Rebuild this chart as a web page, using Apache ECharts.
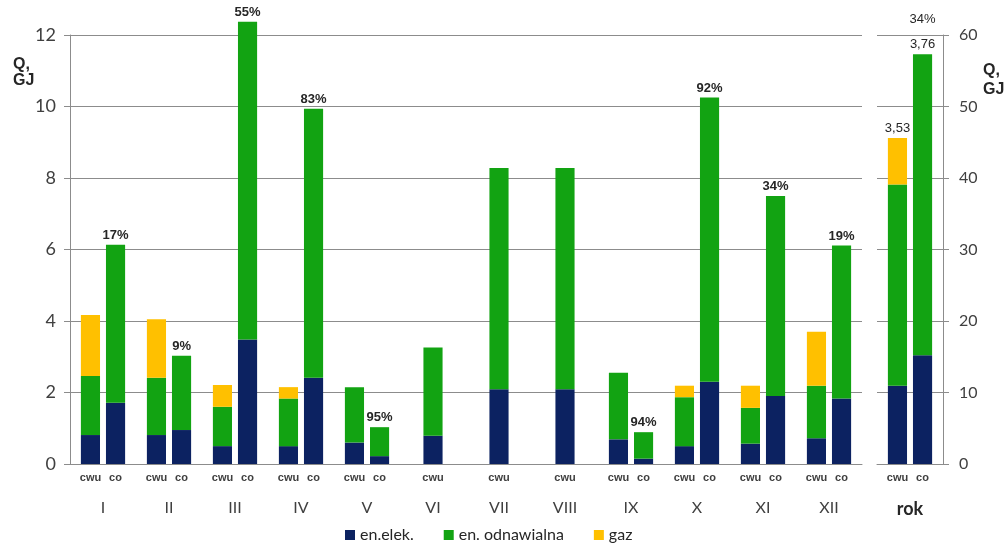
<!DOCTYPE html>
<html>
<head>
<meta charset="utf-8"/>
<title>Q, GJ</title>
<style>
    html, body { margin: 0; padding: 0; background: #fff; }
    #main { width: 1008px; height: 553px; }
</style>
</head>
<body>
<div id="main"></div>
<script src="https://cdn.jsdelivr.net/npm/echarts@6/dist/echarts.min.js"></script>
<script>
// miesiace
var months = ['I', 'II', 'III', 'IV', 'V', 'VI', 'VII', 'VIII', 'IX', 'X', 'XI', 'XII'];

// cwu: en.elek. / en. odnawialna / gaz  (GJ, kolejne segmenty slupka)
var cwuElek = [0.81, 0.81, 0.50, 0.50, 0.60, 0.79, 2.09, 2.09, 0.69, 0.50, 0.57, 0.72];
var cwuOdn  = [1.65, 1.60, 1.10, 1.33, 1.55, 2.47, 6.19, 6.19, 1.86, 1.37, 1.00, 1.47];
var cwuGaz  = [1.71, 1.64, 0.61, 0.32, 0, 0, 0, 0, 0, 0.32, 0.62, 1.51];

// co (brak w VI-VIII)
var coElek = [1.71, 0.95, 3.48, 2.41, 0.22, null, null, null, 0.15, 2.30, 1.90, 1.83];
var coOdn  = [4.42, 2.08, 8.89, 7.53, 0.81, null, null, null, 0.74, 7.95, 5.60, 4.28];
var coGaz  = [0, 0, 0, 0, 0, null, null, null, 0, 0, 0, 0];
var coPct  = ['17%', '9%', '55%', '83%', '95%', '', '', '', '94%', '92%', '34%', '19%'];

// rok (prawa os)
var rokCat  = ['rok'];
var rokCwu  = [10.95, 28.15, 6.5];   // elek, odn, gaz
var rokCo   = [15.2, 42.1, 0];
var rokCwuTxt = ['3,53'];
var rokCoTxt  = ['3,76', '34%'];

var segNames  = ['en.elek.', 'en. odnawialna', 'gaz'];
var segColors = ['#0c2261', '#12a312', '#ffc000'];

// buduje segmenty slupkow: [kategoria, slot(-1 cwu, 1 co, 0 sam), od, do]
function buildStacks(n, cwuSets, coSets, coTexts, cwuTexts) {
    var bars = [[], [], []];
    var labels = [];
    for (var i = 0; i < n; i++) {
        var hasCo = coSets[0][i] != null;
        var slots = hasCo
            ? [{sets: cwuSets, slot: -1, sub: 'cwu', txt: cwuTexts ? cwuTexts(i) : []},
               {sets: coSets, slot: 1, sub: 'co', txt: coTexts(i)}]
            : [{sets: cwuSets, slot: 0, sub: 'cwu', txt: cwuTexts ? cwuTexts(i) : []}];
        slots.forEach(function (s) {
            var base = 0;
            for (var k = 0; k < 3; k++) {
                var v = s.sets[k][i] || 0;
                if (v > 0) bars[k].push([i, s.slot, base, base + v]);
                base += v;
            }
            labels.push({c: i, slot: s.slot, top: base, sub: s.sub, txt: s.txt});
        });
    }
    return {bars: bars, labels: labels};
}

var monthStacks = buildStacks(months.length,
    [cwuElek, cwuOdn, cwuGaz], [coElek, coOdn, coGaz],
    function (i) { return coPct[i] ? [coPct[i]] : []; });

var rokStacks = buildStacks(1,
    [[rokCwu[0]], [rokCwu[1]], [rokCwu[2]]], [[rokCo[0]], [rokCo[1]], [rokCo[2]]],
    function () { return rokCoTxt; },
    function () { return rokCwuTxt; });

function renderSeg(params, api) {
    var c = api.value(0), slot = api.value(1);
    var band = api.size([1, 0])[0];
    var w = band * 0.29;
    var p0 = api.coord([c, api.value(2)]);
    var p1 = api.coord([c, api.value(3)]);
    var cx = p0[0] + slot * band * 0.19;
    return {
        type: 'rect',
        shape: {x: cx - w / 2, y: p1[1], width: w, height: p0[1] - p1[1]},
        style: {fill: api.visual('color')}
    };
}

function labelRenderer(list, bold) {
    return function (params, api) {
        var r = list[params.dataIndex];
        var band = api.size([1, 0])[0];
        var base = api.coord([r.c, 0]);
        var top = api.coord([r.c, r.top]);
        var cx = base[0] + r.slot * band * 0.19;
        var children = [{
            type: 'text', x: cx, y: base[1] + 14,
            style: {text: r.sub, align: 'center', verticalAlign: 'middle',
                font: 'bold 11px "Liberation Sans", Arial, sans-serif', fill: '#404040'}
        }];
        r.txt.forEach(function (t, j) {
            children.push({
                type: 'text', x: cx, y: top[1] - 3 - j * 25,
                style: {text: t, align: 'center', verticalAlign: 'bottom',
                    font: (bold ? 'bold ' : '') + '13px "Liberation Sans", Arial, sans-serif', fill: '#262626'}
            });
        });
        return {type: 'group', children: children};
    };
}

var series = [];
segNames.forEach(function (name, k) {
    series.push({
        name: name, type: 'custom', xAxisIndex: 0, yAxisIndex: 0,
        itemStyle: {color: segColors[k]}, renderItem: renderSeg,
        encode: {x: 0, y: 3}, data: monthStacks.bars[k]
    });
    series.push({
        name: name, type: 'custom', xAxisIndex: 1, yAxisIndex: 1,
        itemStyle: {color: segColors[k]}, renderItem: renderSeg,
        encode: {x: 0, y: 3}, data: rokStacks.bars[k]
    });
});
series.push({
    name: 'lbl1', type: 'custom', xAxisIndex: 0, yAxisIndex: 0, z: 5, silent: true,
    renderItem: labelRenderer(monthStacks.labels, true), encode: {x: 0, y: 2},
    data: monthStacks.labels.map(function (r) { return [r.c, r.slot, r.top]; })
});
series.push({
    name: 'lbl2', type: 'custom', xAxisIndex: 1, yAxisIndex: 1, z: 5, silent: true,
    renderItem: labelRenderer(rokStacks.labels, false), encode: {x: 0, y: 2},
    data: rokStacks.labels.map(function (r) { return [r.c, r.slot, r.top]; })
});

var gray = '#8c8c8c';
var font = 'Lato, "Open Sans", sans-serif';

var myChart = echarts.init(document.getElementById('main'));
var option = {
    animation: false,
    backgroundColor: '#fff',
    title: [
        {text: 'Q,\nGJ', left: 8, top: 52,
            textStyle: {fontSize: 16, fontWeight: 'bold', lineHeight: 16, color: '#262626', fontFamily: '"Liberation Sans", Arial'}},
        {text: 'Q,\nGJ', left: 978, top: 56,
            textStyle: {fontSize: 16, fontWeight: 'bold', lineHeight: 19, color: '#262626', fontFamily: '"Liberation Sans", Arial'}}
    ],
    legend: {
        data: segNames, left: 340, bottom: 5, icon: 'rect',
        itemWidth: 10, itemHeight: 10, itemGap: 30,
        textStyle: {fontSize: 16, color: '#262626', fontFamily: font}
    },
    grid: [
        {left: 70, right: 146, top: 35, bottom: 89},
        {left: 877, right: 65, top: 35, bottom: 89}
    ],
    xAxis: [
        {gridIndex: 0, type: 'category', data: months,
            axisLine: {lineStyle: {color: gray}},
            axisTick: {length: 6, lineStyle: {color: gray}},
            axisLabel: {margin: 36, fontSize: 16, color: '#404040', fontFamily: font}},
        {gridIndex: 1, type: 'category', data: rokCat,
            axisLine: {lineStyle: {color: gray}},
            axisTick: {length: 6, lineStyle: {color: gray}},
            axisLabel: {margin: 36, fontSize: 18, fontWeight: 'bold', color: '#262626', fontFamily: font}}
    ],
    yAxis: [
        {gridIndex: 0, type: 'value', min: 0, max: 12, interval: 2,
            axisLine: {show: true, lineStyle: {color: gray}},
            axisTick: {show: true, length: 6, lineStyle: {color: gray}},
            axisLabel: {margin: 14, fontSize: 18, color: '#404040', fontFamily: font},
            splitLine: {lineStyle: {color: gray}}},
        {gridIndex: 1, type: 'value', position: 'right', min: 0, max: 60, interval: 10,
            axisLine: {show: true, lineStyle: {color: gray}},
            axisTick: {show: true, length: 6, lineStyle: {color: gray}},
            axisLabel: {margin: 16, fontSize: 16, color: '#404040', fontFamily: font},
            splitLine: {lineStyle: {color: gray}}}
    ],
    series: series
};
myChart.setOption(option);

window.onresize = function () {
    myChart.resize();
};
</script>
</body>
</html>
